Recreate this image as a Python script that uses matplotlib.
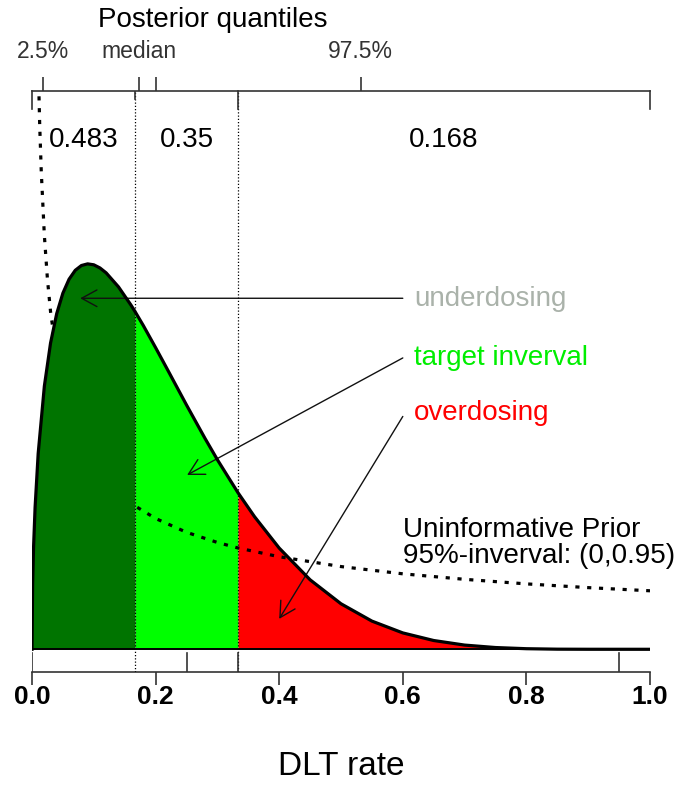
import matplotlib.pyplot as plt

plt.rcParams['font.family'] = ['Liberation Sans', 'DejaVu Sans']

# posterior density of the DLT rate (Beta(1.5, 6)), read at these rates
rate = [0.0, 0.001, 0.0025, 0.005, 0.01, 0.02, 0.03, 0.04, 0.05, 0.06, 0.07,
        0.08, 0.09, 0.10, 0.11, 0.12, 0.14, 0.16, 1 / 6, 0.18, 0.20, 0.22,
        0.25, 0.28, 0.30, 1 / 3, 0.36, 0.40, 0.45, 0.50, 0.55, 0.60, 0.65,
        0.70, 0.75, 0.80, 0.85, 0.90, 1.0]
posterior = [0.0, 0.554, 0.869, 1.213, 1.673, 2.249, 2.617, 2.869, 3.044,
             3.163, 3.239, 3.280, 3.294, 3.286, 3.259, 3.217, 3.097, 2.943,
             2.887, 2.768, 2.578, 2.383, 2.088, 1.802, 1.620, 1.338, 1.134,
             0.865, 0.594, 0.389, 0.241, 0.140, 0.075, 0.036, 0.015, 0.005,
             0.001, 0.0002, 0.0]

# uninformative prior density (Beta(0.5, 1))
prior_rate = [0.0095, 0.0125, 0.015, 0.02, 0.025, 0.03, 0.04, 0.05, 0.06,
              0.08, 0.10, 0.125, 0.15, 1 / 6, 0.2, 0.25, 0.3, 1 / 3, 0.4, 0.5,
              0.6, 0.7, 0.8, 0.9, 1.0]
prior = [5.130, 4.472, 4.082, 3.536, 3.162, 2.887, 2.500, 2.236, 2.041,
         1.768, 1.581, 1.414, 1.291, 1.225, 1.118, 1.000, 0.913, 0.866,
         0.791, 0.707, 0.645, 0.598, 0.559, 0.527, 0.500]

bounds = [0, 1 / 6, 1 / 3, 1]
interval_probs = ['0.483', '0.35', '0.168']
quantile_pos = [0.0173, 0.1727, 0.2, 0.532]
quantile_labels = ['2.5%', 'median', '', '97.5%']
prior_quantiles = [0.0006, 0.25, 0.95]

fig = plt.figure(figsize=(6.79, 7.85), dpi=100)
ax = fig.add_axes([32 / 679, 1 - 671.7 / 785, 618 / 679, 581 / 785])
ax.set_xlim(0, 1)
ax.set_ylim(-0.1915, 4.774)

# shaded regions under the posterior
fills = [('#007400', 3), ('#00ff00', 1), ('#ff0000', 1)]
for k, (col, z) in enumerate(fills):
    lo, hi = bounds[k], bounds[k + 1]
    xs = [r for r in rate if lo <= r <= hi]
    ys = [p for r, p in zip(rate, posterior) if lo <= r <= hi]
    ax.fill_between(xs, 0, ys, color=col, lw=0, zorder=z)

ax.plot(prior_rate, prior, color='black', lw=2.3, dashes=(1.3, 2.4),
        zorder=2, clip_on=True)
ax.plot(rate, posterior, color='black', lw=2.3, zorder=4)
ax.plot([0, 1], [0, 0], color='black', lw=1.4, zorder=4)

# interval boundaries
for b in bounds[1:3]:
    ax.plot([b, b], [-0.1915, 4.774], color='black', lw=0.9,
            dashes=(1, 1.6), zorder=5)
for b in [0, 1 / 3, 1]:
    ax.plot([b, b], [4.774, 4.62], color='#333333', lw=1.2, zorder=5,
            clip_on=False)
ax.plot([1 / 6, 1 / 6], [4.774, 4.70], color='#333333', lw=1.2, zorder=5)

# prior quantile marks on the bottom axis
for q in prior_quantiles + [1 / 3]:
    ax.plot([q, q], [-0.1915, -0.03], color='#333333', lw=1.2, zorder=5)

for k, txt in enumerate(interval_probs):
    mid = (bounds[k] + bounds[k + 1]) / 2
    ax.text(mid, 4.296, txt, ha='center', va='baseline', fontsize=20)

# annotations
notes = [('underdosing', '#aab2aa', 2.93, (0.078, 3.0), (0.6, 3.0)),
         ('target inverval', '#00ee00', 2.43, (0.251, 1.49), (0.6, 2.49)),
         ('overdosing', '#ff0000', 1.96, (0.40, 0.26), (0.6, 1.99))]
for txt, col, ty, tip, start in notes:
    ax.annotate('', xy=tip, xytext=start,
                arrowprops=dict(arrowstyle='->,head_length=0.55,head_width=0.3',
                                lw=1.0, color='#111111', shrinkA=0, shrinkB=0,
                                mutation_scale=20))
    ax.text(0.618, ty, txt, color=col, fontsize=20, va='baseline')

ax.text(0.6, 0.962, 'Uninformative Prior', fontsize=20, va='baseline')
ax.text(0.6, 0.738, '95%-inverval: (0,0.95)', fontsize=20, va='baseline')

# axes
for s in ['left', 'right']:
    ax.spines[s].set_visible(False)
for s in ['top', 'bottom']:
    ax.spines[s].set_color('#333333')
    ax.spines[s].set_linewidth(1.2)
ax.set_yticks([])
ax.set_xticks([0, 0.2, 0.4, 0.6, 0.8, 1.0])
ax.set_xticklabels(['0.0', '0.2', '0.4', '0.6', '0.8', '1.0'],
                   fontsize=19, fontweight='bold')
ax.tick_params(axis='x', direction='out', length=9.5, width=1.2,
               color='#333333', pad=0)
ax.set_xlabel('DLT rate', fontsize=24, labelpad=30)

top = ax.secondary_xaxis('top')
top.set_xticks(quantile_pos)
top.set_xticklabels(quantile_labels, fontsize=16.5, color='#333333')
top.tick_params(direction='out', length=10, width=1.2, color='#333333', pad=10)
top.spines['top'].set_visible(False)

fig.text(213 / 679, 1 - 20 / 785, 'Posterior quantiles', fontsize=20,
         ha='center', va='center')

fig.savefig('out.png', dpi=100)
